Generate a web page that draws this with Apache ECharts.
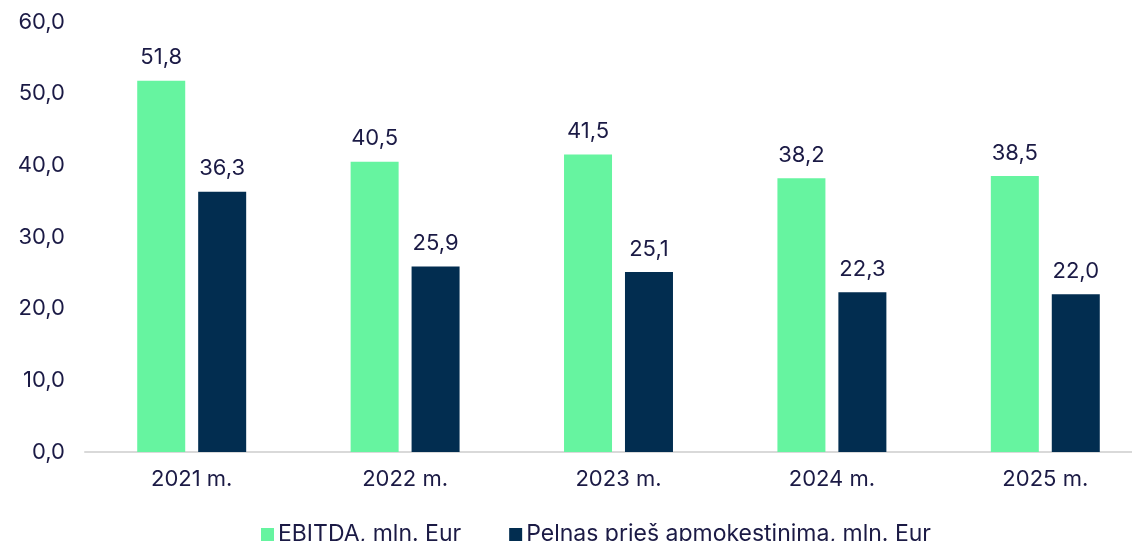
<!DOCTYPE html>
<html><head><meta charset="utf-8">
<script src="https://cdn.jsdelivr.net/npm/echarts@6/dist/echarts.min.js"></script>
<style>html,body{margin:0;padding:0;background:#fff}#c{width:1132px;height:541px}</style>
</head><body><div id="c"></div>
<script>
const categories = ['2021 m.', '2022 m.', '2023 m.', '2024 m.', '2025 m.'];
const ebitda = [51.8, 40.5, 41.5, 38.2, 38.5];
const pelnas = [36.3, 25.9, 25.1, 22.3, 22.0];
const seriesNames = ['EBITDA, mln. Eur', 'Pelnas prieš apmokestinimą, mln. Eur'];
const yTicks = [0, 10, 20, 30, 40, 50, 60];

const txt = '#1b1a45';
const font = 'Inter';
const fs = 22;
const fmt = v => v.toFixed(1).replace('.', ',');
const chart = echarts.init(document.getElementById('c'));
chart.setOption({
  animation: false,
  textStyle: { fontFamily: font },
  grid: { left: 85, right: -20, top: 22, bottom: 89, outerBoundsMode: 'none', containLabel: false },
  legend: {
    top: 518, left: 256,
    itemWidth: 13, itemHeight: 13, itemGap: 48,
    icon: 'rect',
    textStyle: { color: txt, fontSize: 23, fontFamily: font, padding: [0, 0, 0, -1] },
    data: seriesNames
  },
  xAxis: {
    type: 'category', data: categories,
    axisLine: { lineStyle: { color: '#d9d9d9', width: 2 } },
    axisTick: { show: false },
    axisLabel: { color: txt, fontSize: fs, margin: 16, fontFamily: font }
  },
  yAxis: {
    type: 'value', min: yTicks[0], max: yTicks[yTicks.length - 1], interval: 10,
    splitLine: { show: false },
    axisLabel: { color: txt, fontSize: fs, margin: 20, fontFamily: font, formatter: v => fmt(v) }
  },
  series: [
    { name: seriesNames[0], type: 'bar', data: ebitda, barWidth: 48, barGap: '27%',
      itemStyle: { color: '#66f4a0' },
      label: { show: true, position: 'top', distance: 12, color: txt, fontSize: fs, fontFamily: font, formatter: p => fmt(p.value) } },
    { name: seriesNames[1], type: 'bar', data: pelnas, barWidth: 48,
      itemStyle: { color: '#022d50' },
      label: { show: true, position: 'top', distance: 12, color: txt, fontSize: fs, fontFamily: font, formatter: p => fmt(p.value) } }
  ]
});
</script></body></html>
